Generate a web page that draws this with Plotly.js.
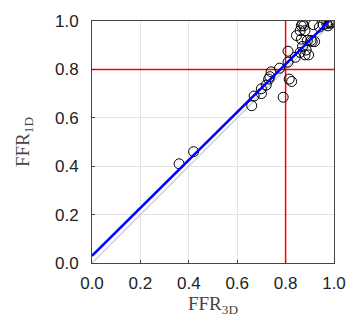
<!DOCTYPE html>
<html><head><meta charset="utf-8">
<script src="https://cdn.plot.ly/plotly-3.0.1.min.js"></script>
<style>html,body{margin:0;padding:0;background:#fff}#c{width:353px;height:327px}</style>
</head><body><div id="c"></div>
<script>
const ffr3d = [0.36,0.42,0.66,0.67,0.70,0.70,0.72,0.73,0.735,0.74,0.775,0.79,0.815,0.825,0.81,0.84,0.81,0.845,0.86,0.865,0.87,0.875,0.88,0.865,0.87,0.885,0.88,0.895,0.91,0.92,0.905,0.915,0.94,0.955,0.97,0.98,0.975,0.985,0.99,0.86,0.89];
const ffr1d = [0.41,0.46,0.65,0.69,0.70,0.72,0.735,0.76,0.77,0.79,0.805,0.685,0.76,0.75,0.83,0.85,0.875,0.94,0.96,0.98,0.99,0.98,0.96,0.925,0.895,0.88,0.86,0.86,0.915,0.915,0.92,0.985,0.975,0.985,0.99,0.995,0.98,0.99,0.995,0.87,0.92];
const identityX = [0, 1];
const identityY = [0, 1];
const fitX = [0, 0.98];
const fitY = [0.03, 1.0];
const threshold = 0.8;
const ticks = [0, 0.2, 0.4, 0.6, 0.8, 1.0];
const tickText = ['0.0','0.2','0.4','0.6','0.8','1.0'];

const traces = [
  {x: identityX, y: identityY, mode:'lines', line:{color:'#d0d0d0', width:1.5}, hoverinfo:'skip'},
  {x: [threshold, threshold], y:[0,1], mode:'lines', line:{color:'#ff0000', width:1.5}},
  {x: [0,1], y:[threshold, threshold], mode:'lines', line:{color:'#ff0000', width:1.5}},
  {x: ffr3d, y: ffr1d, mode:'markers', marker:{symbol:'circle-open', size:10, color:'#000', line:{width:1, color:'#000'}}},
  {x: fitX, y: fitY, mode:'lines', line:{color:'#0000ff', width:2.5}}
];
const axBase = {range:[0,1], tickvals: ticks, ticktext: tickText, showgrid:true, gridcolor:'#e3e3e3', gridwidth:1,
  zeroline:false, showline:true, linecolor:'#444', linewidth:1, mirror:true, ticks:'inside', ticklen:3, tickcolor:'#444',
  tickfont:{family:'Liberation Sans, Arial, sans-serif', size:17, color:'#222'}};
const layout = {
  width:353, height:327, showlegend:false,
  margin:{l:92, r:19, t:21, b:64},
  paper_bgcolor:'#fff', plot_bgcolor:'#fff',
  xaxis: Object.assign({}, axBase, {ticklabelstandoff:5, title:{text:'FFR<sub>3D</sub>', font:{family:'Liberation Serif, DejaVu Serif, serif', size:19, color:'#444'}, standoff:4}}),
  yaxis: Object.assign({}, axBase, {ticklabelstandoff:9, title:{text:'FFR<sub>1D</sub>', font:{family:'Liberation Serif, DejaVu Serif, serif', size:19, color:'#444'}, standoff:20}})
};
Plotly.newPlot('c', traces, layout, {displayModeBar:false, staticPlot:true});
</script></body></html>
